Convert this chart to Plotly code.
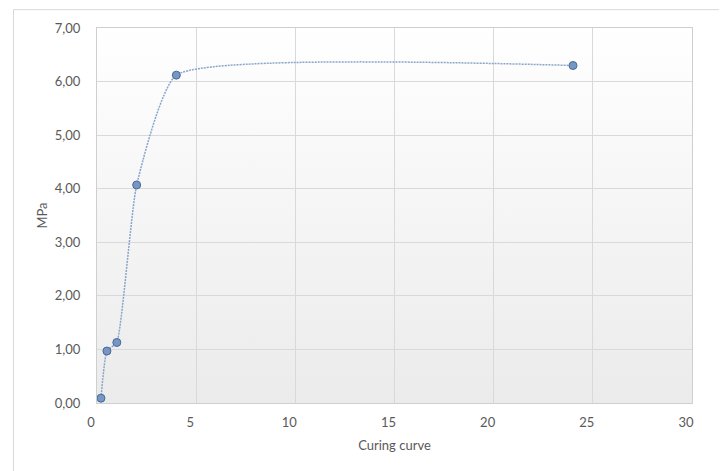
import base64
import plotly.graph_objects as go

# Data
hours = [0.2, 0.5, 1.0, 2.0, 4.0, 24.0]
mpa = [0.09, 0.97, 1.13, 4.07, 6.12, 6.30]
x_ticks = [0, 5, 10, 15, 20, 25, 30]
y_ticks = [0, 1, 2, 3, 4, 5, 6, 7]

W, H = 727, 471
OFF = 8  # page body margin
pw, ph = 595, 378
L = 97 - OFF
T = 25 - OFF
R = W - L - pw
B = H - T - ph

svg = (
    '<svg xmlns="http://www.w3.org/2000/svg" width="100" height="100" preserveAspectRatio="none">'
    '<defs><linearGradient id="g" x1="0" y1="0" x2="0" y2="1">'
    '<stop offset="0" stop-color="#ffffff"/><stop offset="1" stop-color="#ebebeb"/>'
    '</linearGradient></defs><rect width="100" height="100" fill="url(#g)"/></svg>'
)
src = "data:image/svg+xml;base64," + base64.b64encode(svg.encode()).decode()

fig = go.Figure()
fig.add_trace(go.Scatter(
    x=hours, y=mpa, mode="lines+markers",
    line=dict(shape="spline", smoothing=0.45, color="#8aa5cc", width=1.5, dash="2px,1px"),
    marker=dict(size=8, color="#7796c2", line=dict(color="#46699a", width=1)),
    showlegend=False, hoverinfo="x+y",
))


def px_to_paper_x(px):
    return (px - OFF - L) / pw


def px_to_paper_y(py):
    return (H - (py - OFF) - B) / ph


font_family = "Lato, 'Open Sans', sans-serif"
fig.update_layout(
    width=W, height=H,
    margin=dict(l=L, r=R, t=T, b=B),
    paper_bgcolor="white",
    plot_bgcolor="rgba(0,0,0,0)",
    separators=",.",
    font=dict(family=font_family, size=13, color="#595959"),
    images=[dict(source=src, xref="paper", yref="paper", x=0, y=1, sizex=1, sizey=1,
                 sizing="stretch", layer="below", xanchor="left", yanchor="top")],
    xaxis=dict(range=[0, 30], tickvals=x_ticks, showgrid=True, gridcolor="#d9d9d9", gridwidth=1,
               zeroline=False, showline=True, linecolor="#cfcfcf", linewidth=1, mirror=True,
               ticks="", ticklabelstandoff=7, ticklabelshift=-6,
               title=dict(text="Curing curve", font=dict(size=13, color="#595959"), standoff=12),
               fixedrange=True),
    yaxis=dict(range=[0, 7], tickvals=y_ticks, tickformat=".2f", showgrid=True, gridcolor="#d9d9d9",
               gridwidth=1, zeroline=False, showline=True, linecolor="#cfcfcf", linewidth=1,
               mirror=True, ticks="", ticklabelstandoff=13,
               title=dict(text="MPa", font=dict(size=13, color="#595959"), standoff=4),
               fixedrange=True),
    shapes=[dict(type="rect", xref="paper", yref="paper",
                 x0=px_to_paper_x(13.5), x1=px_to_paper_x(723),
                 y0=px_to_paper_y(480), y1=px_to_paper_y(6.5),
                 line=dict(color="#d9d9d9", width=1), fillcolor="rgba(0,0,0,0)", layer="below")],
)

fig.write_html("out.html")
